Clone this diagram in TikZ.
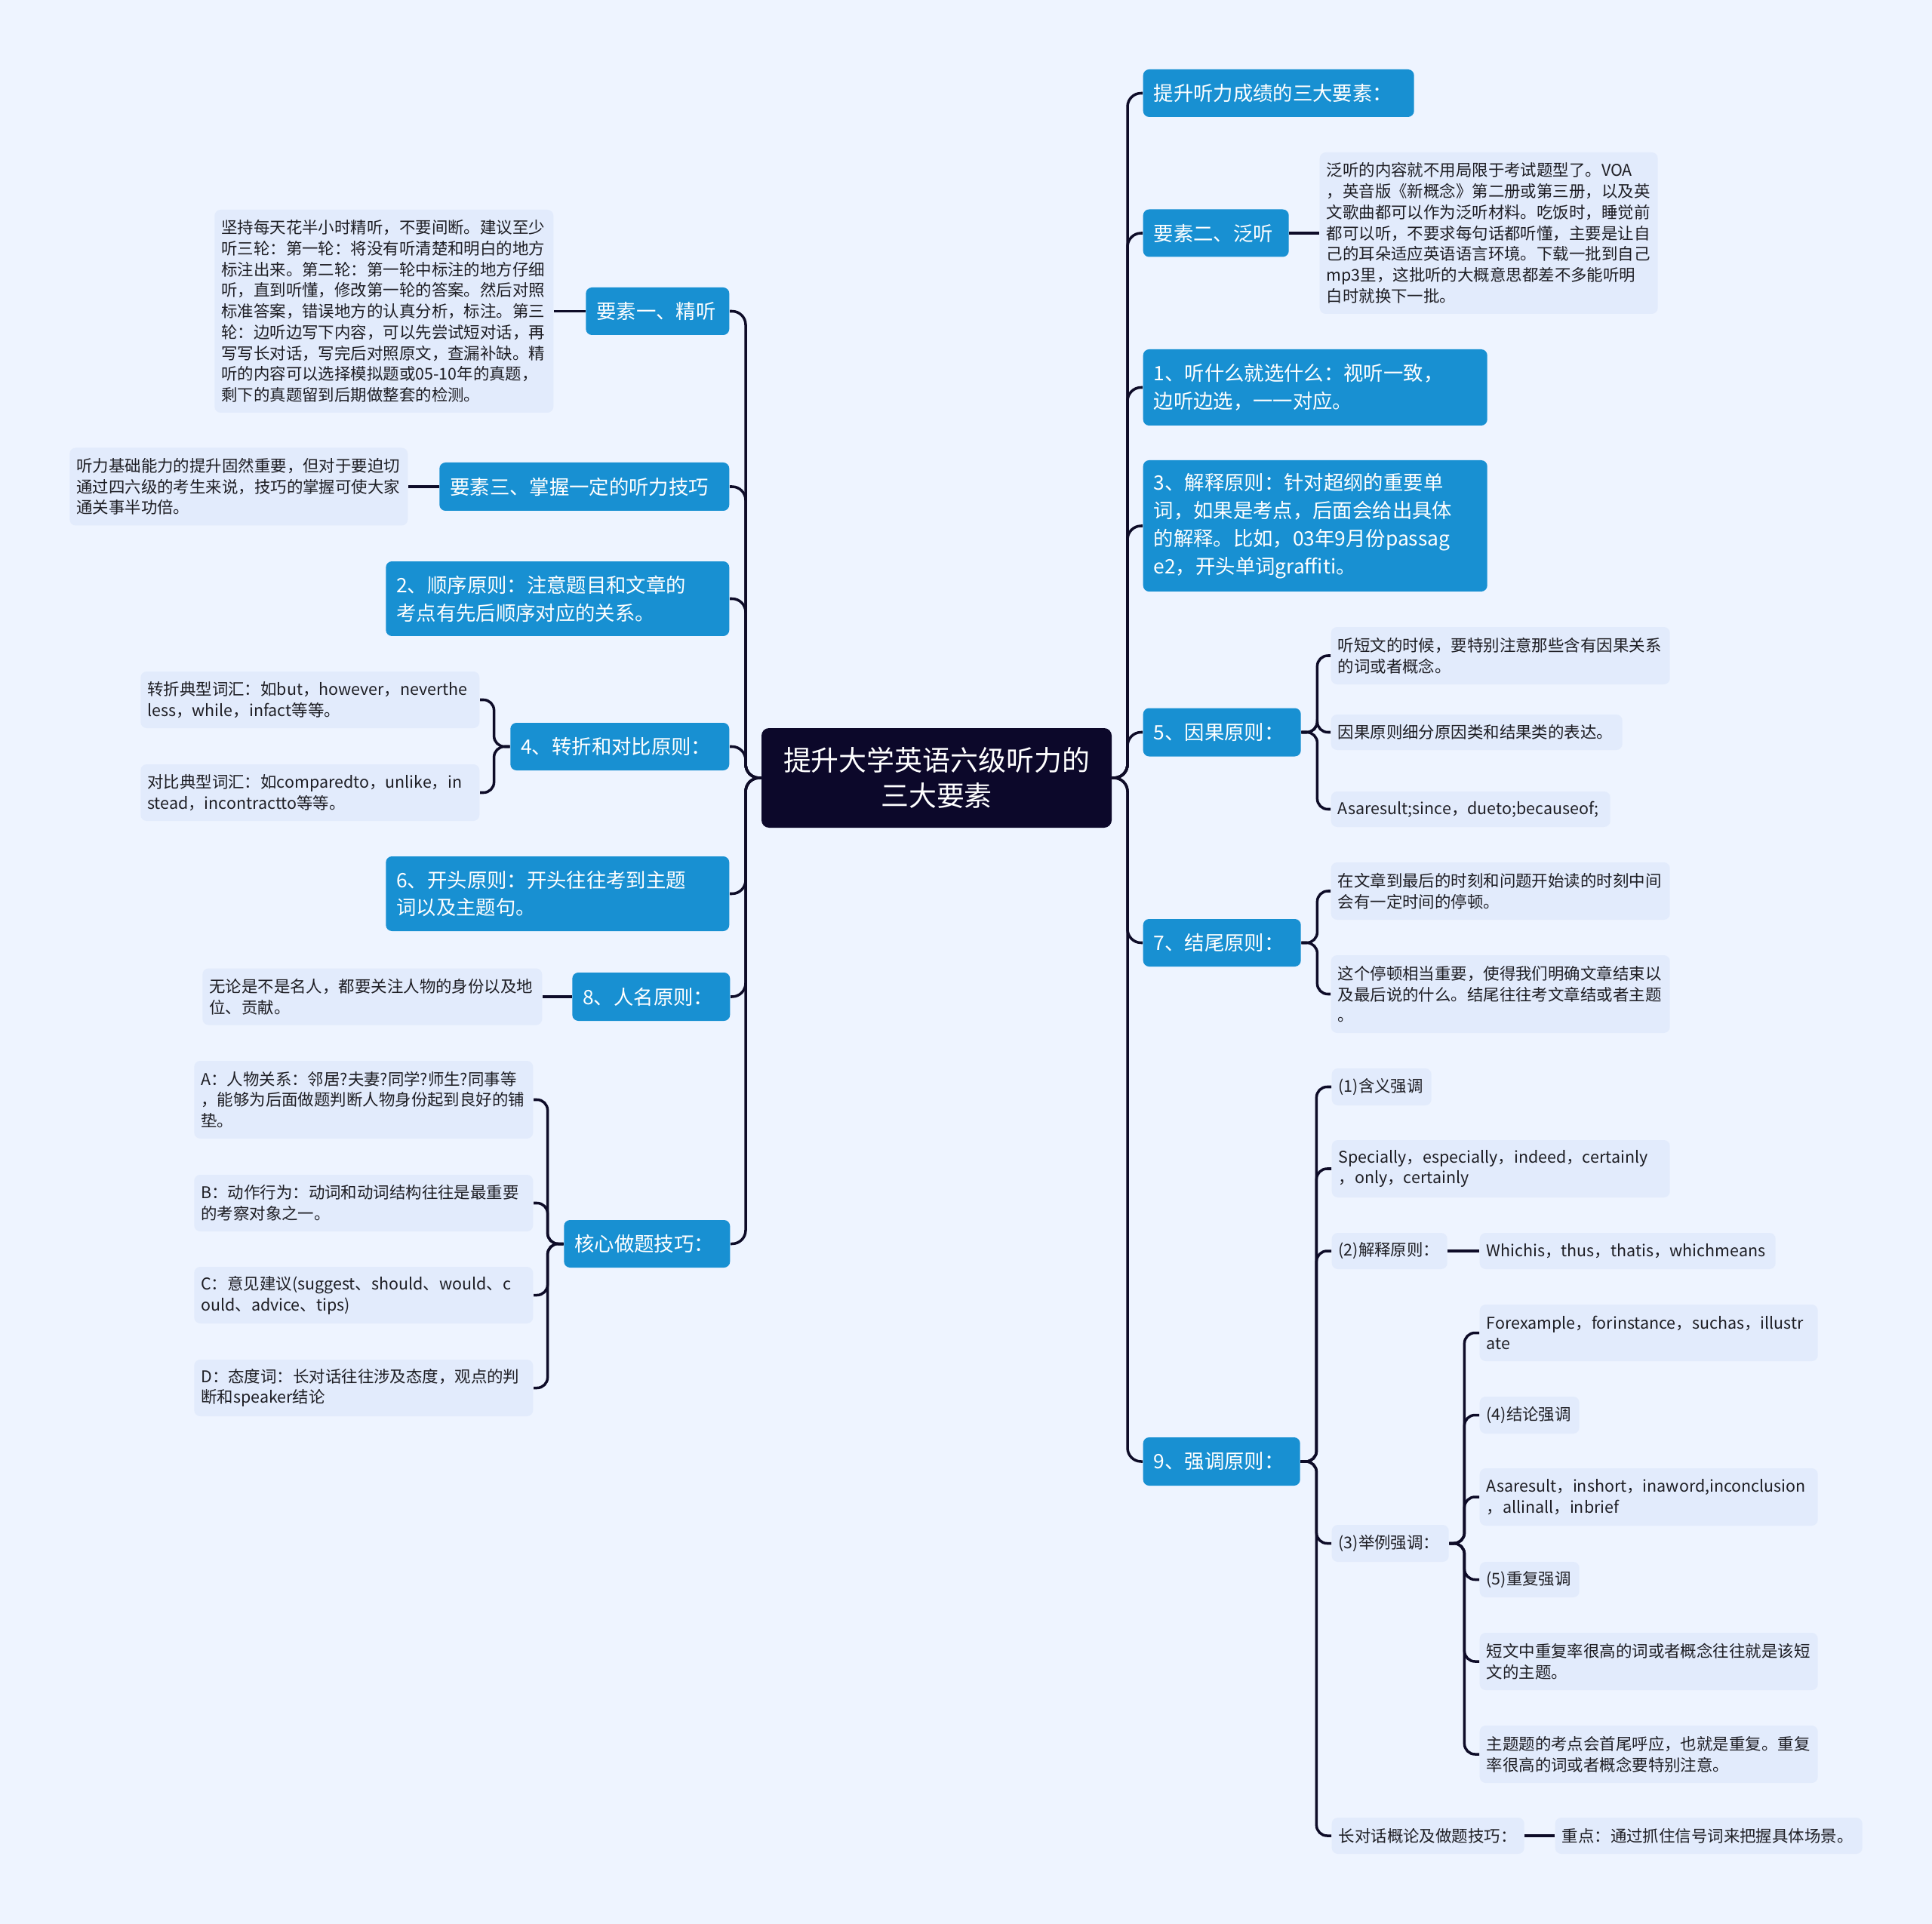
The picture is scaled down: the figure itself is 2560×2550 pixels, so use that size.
\documentclass[tikz,border=0pt]{standalone}
\usepackage{fontspec}
\setmainfont{Noto Sans CJK SC}
\definecolor{bgc}{RGB}{238,244,255}
\definecolor{leafc}{RGB}{226,235,252}
\definecolor{topicc}{RGB}{24,144,210}
\definecolor{rootc}{RGB}{12,8,42}
\definecolor{linec}{RGB}{14,12,40}
\definecolor{inkc}{RGB}{30,30,36}

\begin{document}
\begin{tikzpicture}[x=0.1mm, y=-0.1mm,
  root/.style={fill=rootc, text=white, rounded corners=1mm, align=center,
    font=\fontsize{10.5}{13.5}\selectfont, minimum width=46.4mm, minimum height=13.2mm},
  topic/.style={fill=topicc, text=white, rounded corners=0.8mm, align=left,
    inner xsep=1.4mm, inner ysep=0.8mm, font=\fontsize{7.5}{10.5}\selectfont},
  leaf/.style={fill=leafc, text=inkc, rounded corners=0.8mm, align=left,
    inner xsep=0.9mm, inner ysep=0.8mm, font=\fontsize{6.1}{7.9}\selectfont},
  link/.style={draw=linec, line width=1pt, rounded corners=1.8mm},
  fork/.style={draw=linec, line width=1pt, rounded corners=1.4mm}]

  \fill[bgc] (0,0) rectangle (2560,2550);
  \useasboundingbox (0,0) rectangle (2560,2550);

  % centre
  \node[root] (root) at (1241,1031) {提升大学英语六级听力的\\三大要素};
  \coordinate (rj) at (1494,1031);
  \coordinate (lj) at (988,1031);

  % right side
  \node[topic, anchor=west, text width=33.1mm, minimum height=6.3mm] (t1) at (1514,123.5) {提升听力成绩的三大要素：};
  \node[topic, anchor=west, text width=16.5mm, minimum height=6.3mm] (t2) at (1514,309) {要素二、泛听};
  \node[leaf, anchor=west, text width=43mm, minimum height=21.4mm] (l2) at (1748,309) {泛听的内容就不用局限于考试题型了。VOA\\，英音版《新概念》第二册或第三册，以及英\\文歌曲都可以作为泛听材料。吃饭时，睡觉前\\都可以听，不要求每句话都听懂，主要是让自\\己的耳朵适应英语语言环境。下载一批到自己\\mp3里，这批听的大概意思都差不多能听明\\白时就换下一批。};
  \node[topic, anchor=west, text width=42.8mm, minimum height=10.1mm] (t3) at (1514,513.5) {1、听什么就选什么：视听一致，\\边听边选，一一对应。};
  \node[topic, anchor=west, text width=42.8mm, minimum height=17.4mm] (t4) at (1514,697) {3、解释原则：针对超纲的重要单\\词，如果是考点，后面会给出具体\\的解释。比如，03年9月份passag\\e2，开头单词graffiti。};

  \node[topic, anchor=west, text width=18.1mm, minimum height=6.4mm] (t5) at (1514,970.5) {5、因果原则：};
  \node[leaf, anchor=west, text width=43.1mm, minimum height=7.6mm] (l51) at (1763,869) {听短文的时候，要特别注意那些含有因果关系\\的词或者概念。};
  \node[leaf, anchor=west, text width=36.8mm, minimum height=4.7mm] (l52) at (1763,970.5) {因果原则细分原因类和结果类的表达。};
  \node[leaf, anchor=west, text width=35.2mm, minimum height=4.7mm] (l53) at (1763,1072.5) {Asaresult;since，dueto;becauseof;};

  \node[topic, anchor=west, text width=18.1mm, minimum height=6.3mm] (t6) at (1514,1249.5) {7、结尾原则：};
  \node[leaf, anchor=west, text width=43.1mm, minimum height=7.6mm] (l61) at (1763,1181) {在文章到最后的时刻和问题开始读的时刻中间\\会有一定时间的停顿。};
  \node[leaf, anchor=west, text width=43.1mm, minimum height=10.3mm] (l62) at (1763,1317.5) {这个停顿相当重要，使得我们明确文章结束以\\及最后说的什么。结尾往往考文章结或者主题\\。};

  \node[topic, anchor=west, text width=18mm, minimum height=6.4mm] (t7) at (1514,1937) {9、强调原则：};
  \node[leaf, anchor=west, text width=11.4mm, minimum height=4.9mm] (s1) at (1764,1440.5) {(1)含义强调};
  \node[leaf, anchor=west, text width=43mm, minimum height=7.6mm] (s2) at (1764,1549) {Specially，especially，indeed，certainly\\，only，certainly};
  \node[leaf, anchor=west, text width=13.5mm, minimum height=4.8mm] (s3) at (1764,1658) {(2)解释原则：};
  \node[leaf, anchor=west, text width=37.4mm, minimum height=4.8mm] (s31) at (1960,1658) {Whichis，thus，thatis，whichmeans};
  \node[leaf, anchor=west, text width=13.7mm, minimum height=4.9mm] (s4) at (1764,2045.5) {(3)举例强调：};
  \node[leaf, anchor=west, text width=43mm, minimum height=7.5mm] (s41) at (1960,1766.5) {Forexample，forinstance，suchas，illustr\\ate};
  \node[leaf, anchor=west, text width=11.4mm, minimum height=4.9mm] (s42) at (1960,1875.5) {(4)结论强调};
  \node[leaf, anchor=west, text width=43mm, minimum height=7.6mm] (s43) at (1960,1984) {Asaresult，inshort，inaword,inconclusion\\，allinall，inbrief};
  \node[leaf, anchor=west, text width=11.4mm, minimum height=4.7mm] (s44) at (1960,2093.5) {(5)重复强调};
  \node[leaf, anchor=west, text width=43mm, minimum height=7.6mm] (s45) at (1960,2202) {短文中重复率很高的词或者概念往往就是该短\\文的主题。};
  \node[leaf, anchor=west, text width=43mm, minimum height=7.6mm] (s46) at (1960,2325) {主题题的考点会首尾呼应，也就是重复。重复\\率很高的词或者概念要特别注意。};
  \node[leaf, anchor=west, text width=23.7mm, minimum height=4.8mm] (s5) at (1764,2433) {长对话概论及做题技巧：};
  \node[leaf, anchor=west, text width=38.9mm, minimum height=4.8mm] (s51) at (2060,2433) {重点：通过抓住信号词来把握具体场景。};

  % left side
  \node[topic, anchor=east, text width=16.2mm, minimum height=6.3mm] (u1) at (967,412.5) {要素一、精听};
  \node[leaf, anchor=east, text width=43.1mm, minimum height=26.9mm] (m1) at (734,412.5) {坚持每天花半小时精听，不要间断。建议至少\\听三轮：第一轮：将没有听清楚和明白的地方\\标注出来。第二轮：第一轮中标注的地方仔细\\听，直到听懂，修改第一轮的答案。然后对照\\标准答案，错误地方的认真分析，标注。第三\\轮：边听边写下内容，可以先尝试短对话，再\\写写长对话，写完后对照原文，查漏补缺。精\\听的内容可以选择模拟题或05-10年的真题，\\剩下的真题留到后期做整套的检测。};
  \node[topic, anchor=east, text width=35.6mm, minimum height=6.4mm] (u2) at (967,645) {要素三、掌握一定的听力技巧};
  \node[leaf, anchor=east, text width=43mm, minimum height=10.3mm] (m2) at (541,645) {听力基础能力的提升固然重要，但对于要迫切\\通过四六级的考生来说，技巧的掌握可使大家\\通关事半功倍。};
  \node[topic, anchor=east, text width=42.7mm, minimum height=9.9mm] (u3) at (967,793.5) {2、顺序原则：注意题目和文章的\\考点有先后顺序对应的关系。};
  \node[topic, anchor=east, text width=26.2mm, minimum height=6.3mm] (u4) at (967,989.5) {4、转折和对比原则：};
  \node[leaf, anchor=east, text width=43.1mm, minimum height=7.5mm] (m41) at (636,927.5) {转折典型词汇：如but，however，neverthe\\less，while，infact等等。};
  \node[leaf, anchor=east, text width=43.1mm, minimum height=7.5mm] (m42) at (636,1050.5) {对比典型词汇：如comparedto，unlike，in\\stead，incontractto等等。};
  \node[topic, anchor=east, text width=42.7mm, minimum height=9.9mm] (u5) at (967,1184.5) {6、开头原则：开头往往考到主题\\词以及主题句。};
  \node[topic, anchor=east, text width=18.1mm, minimum height=6.4mm] (u6) at (968,1321) {8、人名原则：};
  \node[leaf, anchor=east, text width=43.2mm, minimum height=7.5mm] (m6) at (719,1321) {无论是不是名人，都要关注人物的身份以及地\\位、贡献。};
  \node[topic, anchor=east, text width=19.2mm, minimum height=6.3mm] (u7) at (968,1648.5) {核心做题技巧：};
  \node[leaf, anchor=east, text width=43.1mm, minimum height=10.3mm] (m71) at (707,1457.5) {A：人物关系：邻居?夫妻?同学?师生?同事等\\，能够为后面做题判断人物身份起到良好的铺\\垫。};
  \node[leaf, anchor=east, text width=43.1mm, minimum height=7.5mm] (m72) at (707,1594.5) {B：动作行为：动词和动词结构往往是最重要\\的考察对象之一。};
  \node[leaf, anchor=east, text width=43.1mm, minimum height=7.5mm] (m73) at (707,1716.5) {C：意见建议(suggest、should、would、c\\ould、advice、tips)};
  \node[leaf, anchor=east, text width=43.1mm, minimum height=7.5mm] (m74) at (707,1839.5) {D：态度词：长对话往往涉及态度，观点的判\\断和speaker结论};

  % connectors
  \foreach \n in {t1,t2,t3,t4,t5,t6,t7}
    \draw[link] (root.east) -- (rj) |- (\n.west);
  \foreach \n in {u1,u2,u3,u4,u5,u6,u7}
    \draw[link] (root.west) -- (lj) |- (\n.east);
  \foreach \n in {l51,l52,l53}
    \draw[fork] (t5.east) -- ++(21,0) |- (\n.west);
  \foreach \n in {l61,l62}
    \draw[fork] (t6.east) -- ++(21,0) |- (\n.west);
  \foreach \n in {s1,s2,s3,s4,s5}
    \draw[fork] (t7.east) -- ++(21,0) |- (\n.west);
  \foreach \n in {s41,s42,s43,s44,s45,s46}
    \draw[fork] (s4.east) -- ++(20,0) |- (\n.west);
  \foreach \n in {m41,m42}
    \draw[fork] (u4.west) -- ++(-21,0) |- (\n.east);
  \foreach \n in {m71,m72,m73,m74}
    \draw[fork] (u7.west) -- ++(-21,0) |- (\n.east);
  \draw[fork] (t2.east) -- (l2.west);
  \draw[fork] (s3.east) -- (s31.west);
  \draw[fork] (s5.east) -- (s51.west);
  \draw[fork] (u1.west) -- (m1.east);
  \draw[fork] (u2.west) -- (m2.east);
  \draw[fork] (u6.west) -- (m6.east);
\end{tikzpicture}
\end{document}
